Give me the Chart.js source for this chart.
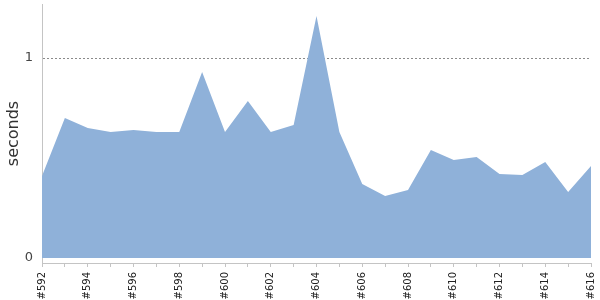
<!DOCTYPE html>
<html>
<head>
<meta charset="utf-8">
<script src="https://cdn.jsdelivr.net/npm/chart.js@4"></script>
<style>
  html, body { margin: 0; padding: 0; background: #fff; }
  #wrap { width: 600px; height: 300px; }
</style>
</head>
<body>
<div id="wrap"><canvas id="buildTimes"></canvas></div>
<script>
const builds = [
  "#592", "#593", "#594", "#595", "#596", "#597", "#598", "#599", "#600",
  "#601", "#602", "#603", "#604", "#605", "#606", "#607", "#608", "#609",
  "#610", "#611", "#612", "#613", "#614", "#615", "#616"
];
const seconds = [
  0.41, 0.70, 0.65, 0.63, 0.64, 0.63, 0.63, 0.93, 0.63,
  0.785, 0.63, 0.665, 1.21, 0.63, 0.37, 0.31, 0.34, 0.54,
  0.49, 0.505, 0.42, 0.415, 0.48, 0.33, 0.46
];
const yTicks = [0, 1];

document.addEventListener("DOMContentLoaded", function () {
  const ctx = document.getElementById("buildTimes");
  new Chart(ctx, {
    type: 'line',
    data: {
      labels: builds,
      datasets: [{
        label: "seconds",
        data: seconds,
        fill: 'origin',
        backgroundColor: "rgb(143, 177, 217)",
        borderColor: "rgb(143, 177, 217)",
        borderWidth: 0,
        pointRadius: 0,
        tension: 0
      }]
    },
    options: {
      responsive: true,
      maintainAspectRatio: false,
      animation: false,
      layout: { padding: { top: 4, right: 9, left: 0, bottom: 0 } },
      plugins: {
        legend: { display: false },
        tooltip: { enabled: false }
      },
      scales: {
        x: {
          offset: false,
          grid: { display: true, drawOnChartArea: false, tickLength: 4, color: "#c4c4c4" },
          border: { color: "#c4c4c4" },
          ticks: {
            autoSkip: false,
            maxRotation: 90,
            minRotation: 90,
            padding: 5,
            color: "#222",
            font: { family: "DejaVu Sans", size: 10 },
            callback: function (value, index) {
              return index % 2 === 0 ? builds[index] : '';
            }
          },
          afterFit: function (scale) {
            scale.height = 37;
            scale.paddingLeft = 0;
            scale.paddingRight = 0;
          }
        },
        y: {
          min: -0.025,
          max: 1.27,
          grid: {
            drawTicks: false,
            color: function (c) {
              return c.tick && c.tick.value === 1 ? "#8a8a8a" : "transparent";
            }
          },
          border: { color: "#c4c4c4", dash: [2, 2] },
          ticks: {
            stepSize: 1,
            includeBounds: false,
            padding: 9,
            color: "#444",
            font: { family: "DejaVu Sans", size: 13 },
            callback: function (value) {
              return yTicks.includes(value) ? value : '';
            }
          },
          title: {
            display: true,
            text: "seconds",
            color: "#333",
            font: { family: "DejaVu Sans", size: 16 },
            padding: { top: 4, bottom: 0 }
          },
          afterFit: function (scale) {
            scale.width = 42;
            scale.paddingTop = 0;
            scale.paddingBottom = 0;
          }
        }
      }
    }
  });
});
</script>
</body>
</html>
